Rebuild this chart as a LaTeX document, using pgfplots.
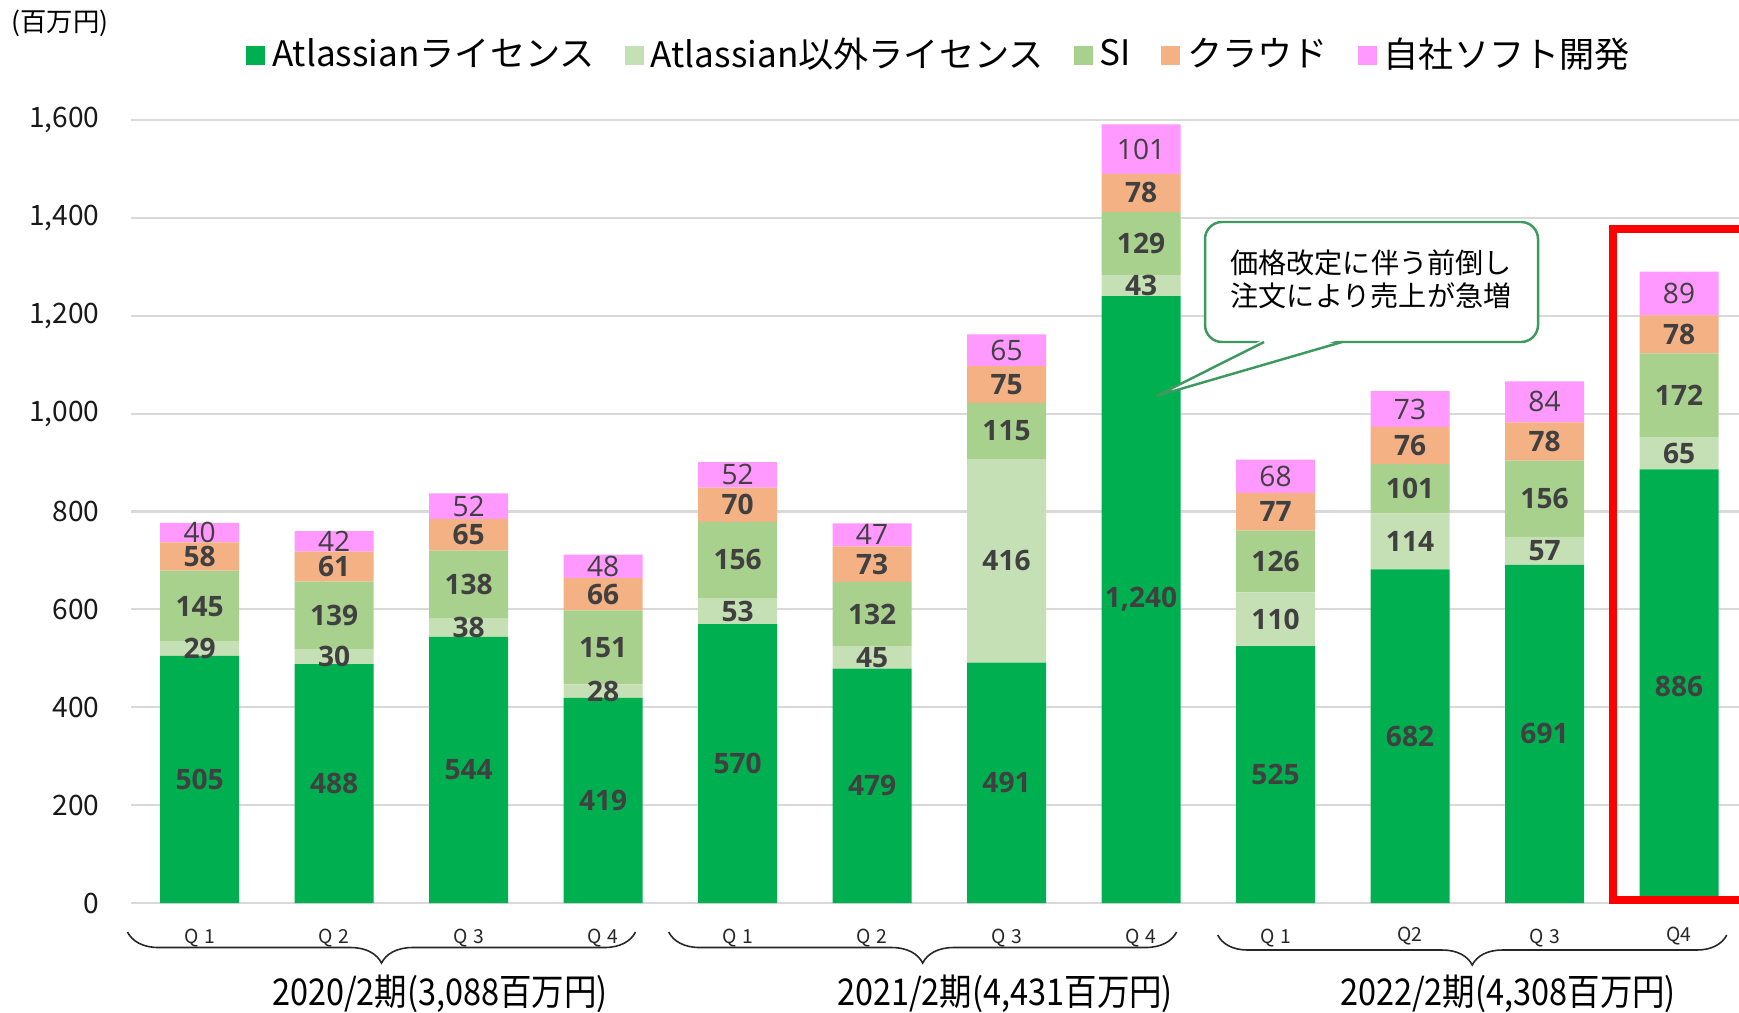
\documentclass[border=0pt]{standalone}
\usepackage{fontspec}
\setmainfont{Noto Sans CJK JP}
\newfontfamily\labfont{Open Sans}
\usepackage{pgfplots}
\pgfplotsset{compat=1.18}
\usetikzlibrary{decorations.pathreplacing}
\definecolor{cA}{HTML}{00B050}
\definecolor{cB}{HTML}{C5E0B4}
\definecolor{cC}{HTML}{A9D18E}
\definecolor{cD}{HTML}{F4B183}
\definecolor{cE}{HTML}{FF99FF}
\definecolor{labgray}{HTML}{404040}
\definecolor{gridgray}{HTML}{D9D9D9}
\definecolor{callgreen}{HTML}{3C9A5F}
\begin{document}
\begin{tikzpicture}
\path[use as bounding box] (-1.31cm,-1.09cm) rectangle (16.08cm,9.03cm);
\begin{axis}[
  at={(0,0)}, anchor=south west,
  scale only axis, width=16.08cm, height=7.83cm,
  xmin=-0.51, xmax=11.446, ymin=0, ymax=1600,
  ybar stacked, bar width=7.9mm,
  axis line style={draw=none},
  major tick length=0pt,
  ytick={0,200,...,1600},
  ymajorgrids, grid style={color=gridgray, line width=0.6pt},
  xtick={0,...,11},
  xticklabels={Q\hspace{0.3em}1,Q\hspace{0.3em}2,Q\hspace{0.3em}3,Q\hspace{0.3em}4,
               Q\hspace{0.3em}1,Q\hspace{0.3em}2,Q\hspace{0.3em}3,Q\hspace{0.3em}4,
               Q\hspace{0.3em}1,\raisebox{0.7mm}{Q2},Q\hspace{0.3em}3,\raisebox{0.7mm}{Q4}},
  xticklabel style={font=\fontsize{5.5}{6}\selectfont, anchor=center, yshift=-3.5mm, text=black!85},
  yticklabel style={font=\fontsize{8}{9}\selectfont, anchor=east, inner sep=0pt, xshift=-3.1mm, text=black!90},
  /pgf/number format/assume math mode=true,
  /pgf/number format/1000 sep={,},
  nodes near coords,
  every node near coord/.append style={anchor=center,
     font=\labfont\bfseries\fontsize{8}{9}\selectfont, text=labgray},
  every axis plot post/.append style={draw=none,
     legend image code/.code={\fill[##1,draw=none] (0mm,-0.95mm) rectangle (1.9mm,0.95mm);}},
  legend style={at={(0.504,1.083)}, anchor=center, draw=none, fill=none,
     font=\fontsize{10}{12}\selectfont, legend columns=5,
     /tikz/every even column/.append style={column sep=2.3mm}},
]
\addplot[fill=cA] coordinates {(0,505) (1,488) (2,544) (3,419) (4,570) (5,479) (6,491) (7,1240) (8,525) (9,682) (10,691) (11,886)};
\addlegendentry{Atlassianライセンス}
\addplot[fill=cB] coordinates {(0,29) (1,30) (2,38) (3,28) (4,53) (5,45) (6,416) (7,43) (8,110) (9,114) (10,57) (11,65)};
\addlegendentry{Atlassian以外ライセンス}
\addplot[fill=cC] coordinates {(0,145) (1,139) (2,138) (3,151) (4,156) (5,132) (6,115) (7,129) (8,126) (9,101) (10,156) (11,172)};
\addlegendentry{SI}
\addplot[fill=cD] coordinates {(0,58) (1,61) (2,65) (3,66) (4,70) (5,73) (6,75) (7,78) (8,77) (9,76) (10,78) (11,78)};
\addlegendentry{クラウド}
\addplot[fill=cE, every node near coord/.append style={font=\labfont\fontsize{8}{9}\selectfont}] coordinates {(0,40) (1,42) (2,52) (3,48) (4,52) (5,47) (6,65) (7,101) (8,68) (9,73) (10,84) (11,89)};
\addlegendentry{自社ソフト開発}
\end{axis}
% unit label
\node[font=\fontsize{7.5}{9}\selectfont] at (-0.71cm,8.80cm) {(百万円)};
% red highlight box
\draw[red, line width=0.8mm, line join=miter] (16.4cm,6.74cm) -- (14.82cm,6.74cm) -- (14.82cm,0.03cm) -- (16.4cm,0.03cm);
% callout
\draw[callgreen, line width=0.7pt, fill=white, rounded corners=0.17cm] (10.74cm,5.61cm) rectangle (14.07cm,6.81cm);
\fill[white] (11.33cm,5.64cm) -- (10.256cm,5.071cm) -- (12.11cm,5.64cm) -- cycle;
\draw[callgreen, line width=0.7pt, line join=miter] (11.33cm,5.61cm) -- (10.256cm,5.071cm) -- (12.11cm,5.61cm);
\node[font=\fontsize{8}{9.4}\selectfont, align=center, inner sep=0pt] at (12.40cm,6.235cm) {価格改定に伴う前倒し\\注文により売上が急増};
% braces
\draw[decorate, decoration={brace, mirror, amplitude=3.1mm}, line width=0.45pt, black!85] (-0.035cm,-0.29cm) -- (5.045cm,-0.29cm);
\draw[decorate, decoration={brace, mirror, amplitude=3.1mm}, line width=0.45pt, black!85] (5.377cm,-0.29cm) -- (10.456cm,-0.29cm);
\draw[decorate, decoration={brace, mirror, amplitude=3.0mm}, line width=0.45pt, black!85] (10.867cm,-0.32cm) -- (15.957cm,-0.32cm);
% period labels
\node[font=\fontsize{10.5}{12}\selectfont] at (3.09cm,-0.91cm) {\scalebox{0.88}[1]{2020/2期(3,088百万円)}};
\node[font=\fontsize{10.5}{12}\selectfont] at (8.74cm,-0.91cm) {\scalebox{0.88}[1]{2021/2期(4,431百万円)}};
\node[font=\fontsize{10.5}{12}\selectfont] at (13.77cm,-0.91cm) {\scalebox{0.88}[1]{2022/2期(4,308百万円)}};
\end{tikzpicture}
\end{document}
